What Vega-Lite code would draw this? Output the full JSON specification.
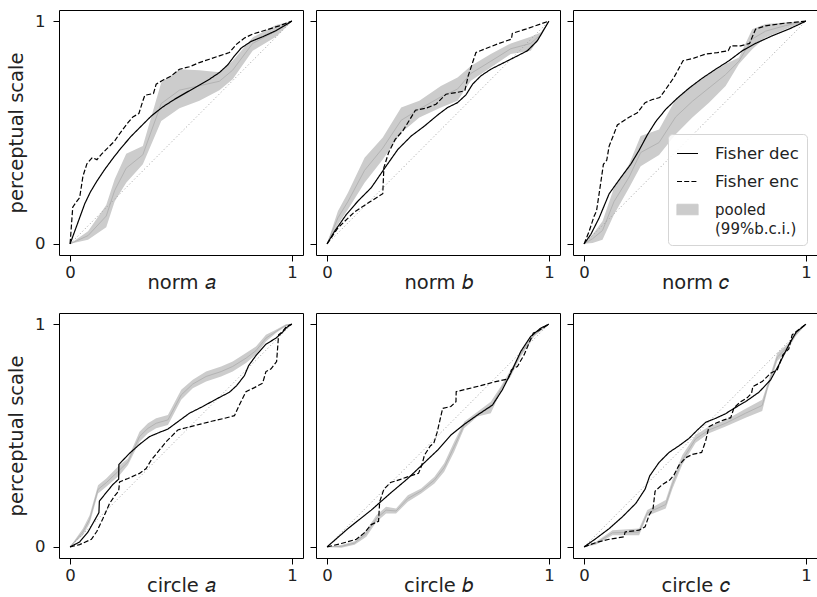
{
"$schema": "https://vega.github.io/schema/vega-lite/v6.json",
"padding": {"left": 6, "top": 9, "right": 0, "bottom": 0},
"background": "white",
"datasets": {
"diag": [{"x": 0, "y": 0}, {"x": 1, "y": 1}],
"band": [
{"p":"na","x":0,"y":0,"hi":0,"m":0},{"p":"na","x":0.081,"y":0.018,"hi":0.057,"m":0.037},{"p":"na","x":0.163,"y":0.075,"hi":0.174,"m":0.125},{"p":"na","x":0.201,"y":0.19,"hi":0.29,"m":0.24},{"p":"na","x":0.253,"y":0.274,"hi":0.405,"m":0.34},{"p":"na","x":0.328,"y":0.357,"hi":0.439,"m":0.4},{"p":"na","x":0.411,"y":0.552,"hi":0.724,"m":0.63},{"p":"na","x":0.493,"y":0.609,"hi":0.784,"m":0.69},{"p":"na","x":0.583,"y":0.642,"hi":0.78,"m":0.71},{"p":"na","x":0.673,"y":0.69,"hi":0.77,"m":0.73},{"p":"na","x":0.733,"y":0.739,"hi":0.822,"m":0.78},{"p":"na","x":0.823,"y":0.867,"hi":0.927,"m":0.9},{"p":"na","x":0.928,"y":0.93,"hi":0.983,"m":0.955},{"p":"na","x":1,"y":1,"hi":1,"m":1},
{"p":"nb","x":0,"y":0,"hi":0,"m":0},{"p":"nb","x":0.049,"y":0.087,"hi":0.147,"m":0.117},{"p":"nb","x":0.094,"y":0.154,"hi":0.229,"m":0.19},{"p":"nb","x":0.169,"y":0.274,"hi":0.387,"m":0.33},{"p":"nb","x":0.251,"y":0.379,"hi":0.477,"m":0.43},{"p":"nb","x":0.334,"y":0.499,"hi":0.612,"m":0.555},{"p":"nb","x":0.416,"y":0.567,"hi":0.642,"m":0.605},{"p":"nb","x":0.513,"y":0.612,"hi":0.709,"m":0.66},{"p":"nb","x":0.588,"y":0.642,"hi":0.747,"m":0.695},{"p":"nb","x":0.648,"y":0.732,"hi":0.799,"m":0.765},{"p":"nb","x":0.738,"y":0.792,"hi":0.852,"m":0.82},{"p":"nb","x":0.828,"y":0.852,"hi":0.9,"m":0.876},{"p":"nb","x":0.918,"y":0.867,"hi":0.93,"m":0.9},{"p":"nb","x":0.963,"y":0.934,"hi":0.949,"m":0.94},{"p":"nb","x":1,"y":1,"hi":1,"m":1},
{"p":"nc","x":0,"y":0,"hi":0,"m":0},{"p":"nc","x":0.038,"y":0.004,"hi":0.042,"m":0.023},{"p":"nc","x":0.083,"y":0.019,"hi":0.102,"m":0.06},{"p":"nc","x":0.135,"y":0.132,"hi":0.252,"m":0.19},{"p":"nc","x":0.203,"y":0.252,"hi":0.357,"m":0.3},{"p":"nc","x":0.255,"y":0.349,"hi":0.484,"m":0.41},{"p":"nc","x":0.338,"y":0.399,"hi":0.514,"m":0.455},{"p":"nc","x":0.413,"y":0.492,"hi":0.649,"m":0.57},{"p":"nc","x":0.488,"y":0.567,"hi":0.709,"m":0.64},{"p":"nc","x":0.563,"y":0.634,"hi":0.762,"m":0.7},{"p":"nc","x":0.638,"y":0.709,"hi":0.807,"m":0.76},{"p":"nc","x":0.698,"y":0.807,"hi":0.837,"m":0.82},{"p":"nc","x":0.758,"y":0.874,"hi":0.964,"m":0.92},{"p":"nc","x":0.818,"y":0.927,"hi":0.987,"m":0.955},{"p":"nc","x":0.908,"y":0.964,"hi":0.994,"m":0.98},{"p":"nc","x":1,"y":1,"hi":1,"m":1},
{"p":"ca","x":0,"y":0,"hi":0,"m":0},{"p":"ca","x":0.058,"y":0.052,"hi":0.082,"m":0.067},{"p":"ca","x":0.088,"y":0.105,"hi":0.142,"m":0.123},{"p":"ca","x":0.126,"y":0.24,"hi":0.277,"m":0.258},{"p":"ca","x":0.163,"y":0.27,"hi":0.307,"m":0.288},{"p":"ca","x":0.223,"y":0.322,"hi":0.367,"m":0.345},{"p":"ca","x":0.261,"y":0.367,"hi":0.397,"m":0.382},{"p":"ca","x":0.313,"y":0.472,"hi":0.517,"m":0.495},{"p":"ca","x":0.351,"y":0.51,"hi":0.555,"m":0.532},{"p":"ca","x":0.388,"y":0.532,"hi":0.577,"m":0.555},{"p":"ca","x":0.441,"y":0.547,"hi":0.592,"m":0.57},{"p":"ca","x":0.501,"y":0.66,"hi":0.705,"m":0.682},{"p":"ca","x":0.553,"y":0.712,"hi":0.75,"m":0.731},{"p":"ca","x":0.613,"y":0.742,"hi":0.787,"m":0.765},{"p":"ca","x":0.681,"y":0.765,"hi":0.81,"m":0.787},{"p":"ca","x":0.733,"y":0.787,"hi":0.832,"m":0.81},{"p":"ca","x":0.793,"y":0.825,"hi":0.87,"m":0.847},{"p":"ca","x":0.838,"y":0.862,"hi":0.9,"m":0.881},{"p":"ca","x":0.883,"y":0.922,"hi":0.952,"m":0.937},{"p":"ca","x":0.928,"y":0.96,"hi":0.975,"m":0.967},{"p":"ca","x":0.973,"y":0.99,"hi":1,"m":0.995},{"p":"ca","x":1,"y":1,"hi":1,"m":1},
{"p":"cb","x":0,"y":0,"hi":0,"m":0},{"p":"cb","x":0.064,"y":-0.004,"hi":0.008,"m":0.002},{"p":"cb","x":0.124,"y":0.01,"hi":0.025,"m":0.017},{"p":"cb","x":0.177,"y":0.045,"hi":0.075,"m":0.06},{"p":"cb","x":0.222,"y":0.112,"hi":0.142,"m":0.127},{"p":"cb","x":0.266,"y":0.15,"hi":0.18,"m":0.165},{"p":"cb","x":0.311,"y":0.15,"hi":0.172,"m":0.161},{"p":"cb","x":0.364,"y":0.202,"hi":0.232,"m":0.217},{"p":"cb","x":0.424,"y":0.24,"hi":0.262,"m":0.251},{"p":"cb","x":0.484,"y":0.285,"hi":0.315,"m":0.3},{"p":"cb","x":0.528,"y":0.337,"hi":0.375,"m":0.356},{"p":"cb","x":0.573,"y":0.427,"hi":0.472,"m":0.45},{"p":"cb","x":0.618,"y":0.532,"hi":0.562,"m":0.547},{"p":"cb","x":0.678,"y":0.585,"hi":0.607,"m":0.596},{"p":"cb","x":0.738,"y":0.6,"hi":0.652,"m":0.626},{"p":"cb","x":0.783,"y":0.697,"hi":0.72,"m":0.708},{"p":"cb","x":0.828,"y":0.765,"hi":0.795,"m":0.78},{"p":"cb","x":0.873,"y":0.855,"hi":0.877,"m":0.866},{"p":"cb","x":0.933,"y":0.945,"hi":0.96,"m":0.952},{"p":"cb","x":1,"y":1,"hi":1,"m":1},
{"p":"cc","x":0,"y":0,"hi":0,"m":0},{"p":"cc","x":0.053,"y":0.01,"hi":0.022,"m":0.016},{"p":"cc","x":0.128,"y":0.052,"hi":0.075,"m":0.063},{"p":"cc","x":0.248,"y":0.052,"hi":0.082,"m":0.067},{"p":"cc","x":0.285,"y":0.14,"hi":0.165,"m":0.152},{"p":"cc","x":0.368,"y":0.172,"hi":0.21,"m":0.19},{"p":"cc","x":0.398,"y":0.26,"hi":0.3,"m":0.28},{"p":"cc","x":0.443,"y":0.37,"hi":0.412,"m":0.39},{"p":"cc","x":0.503,"y":0.467,"hi":0.502,"m":0.485},{"p":"cc","x":0.563,"y":0.51,"hi":0.54,"m":0.525},{"p":"cc","x":0.638,"y":0.54,"hi":0.57,"m":0.555},{"p":"cc","x":0.728,"y":0.58,"hi":0.62,"m":0.6},{"p":"cc","x":0.803,"y":0.61,"hi":0.66,"m":0.635},{"p":"cc","x":0.826,"y":0.7,"hi":0.73,"m":0.715},{"p":"cc","x":0.871,"y":0.835,"hi":0.87,"m":0.852},{"p":"cc","x":0.916,"y":0.88,"hi":0.91,"m":0.895},{"p":"cc","x":0.953,"y":0.945,"hi":0.96,"m":0.952},{"p":"cc","x":1,"y":1,"hi":1,"m":1}
],
"lines": [
{"p":"na","s":"Fisher dec","x":0,"y":0},{"p":"na","s":"Fisher dec","x":0.021,"y":0.057},{"p":"na","s":"Fisher dec","x":0.043,"y":0.117},{"p":"na","s":"Fisher dec","x":0.066,"y":0.18},{"p":"na","s":"Fisher dec","x":0.091,"y":0.232},{"p":"na","s":"Fisher dec","x":0.121,"y":0.282},{"p":"na","s":"Fisher dec","x":0.156,"y":0.334},{"p":"na","s":"Fisher dec","x":0.193,"y":0.384},{"p":"na","s":"Fisher dec","x":0.231,"y":0.432},{"p":"na","s":"Fisher dec","x":0.276,"y":0.484},{"p":"na","s":"Fisher dec","x":0.321,"y":0.529},{"p":"na","s":"Fisher dec","x":0.366,"y":0.574},{"p":"na","s":"Fisher dec","x":0.418,"y":0.615},{"p":"na","s":"Fisher dec","x":0.471,"y":0.649},{"p":"na","s":"Fisher dec","x":0.523,"y":0.679},{"p":"na","s":"Fisher dec","x":0.576,"y":0.709},{"p":"na","s":"Fisher dec","x":0.628,"y":0.739},{"p":"na","s":"Fisher dec","x":0.673,"y":0.769},{"p":"na","s":"Fisher dec","x":0.711,"y":0.804},{"p":"na","s":"Fisher dec","x":0.741,"y":0.844},{"p":"na","s":"Fisher dec","x":0.771,"y":0.879},{"p":"na","s":"Fisher dec","x":0.816,"y":0.909},{"p":"na","s":"Fisher dec","x":0.868,"y":0.93},{"p":"na","s":"Fisher dec","x":0.928,"y":0.957},{"p":"na","s":"Fisher dec","x":1,"y":1},
{"p":"na","s":"Fisher enc","x":0,"y":0},{"p":"na","s":"Fisher enc","x":0.012,"y":0.165},{"p":"na","s":"Fisher enc","x":0.031,"y":0.192},{"p":"na","s":"Fisher enc","x":0.043,"y":0.207},{"p":"na","s":"Fisher enc","x":0.058,"y":0.304},{"p":"na","s":"Fisher enc","x":0.076,"y":0.36},{"p":"na","s":"Fisher enc","x":0.1,"y":0.387},{"p":"na","s":"Fisher enc","x":0.121,"y":0.378},{"p":"na","s":"Fisher enc","x":0.141,"y":0.402},{"p":"na","s":"Fisher enc","x":0.171,"y":0.432},{"p":"na","s":"Fisher enc","x":0.201,"y":0.462},{"p":"na","s":"Fisher enc","x":0.216,"y":0.484},{"p":"na","s":"Fisher enc","x":0.238,"y":0.514},{"p":"na","s":"Fisher enc","x":0.261,"y":0.544},{"p":"na","s":"Fisher enc","x":0.283,"y":0.57},{"p":"na","s":"Fisher enc","x":0.31,"y":0.585},{"p":"na","s":"Fisher enc","x":0.328,"y":0.642},{"p":"na","s":"Fisher enc","x":0.337,"y":0.667},{"p":"na","s":"Fisher enc","x":0.376,"y":0.675},{"p":"na","s":"Fisher enc","x":0.388,"y":0.717},{"p":"na","s":"Fisher enc","x":0.418,"y":0.735},{"p":"na","s":"Fisher enc","x":0.456,"y":0.754},{"p":"na","s":"Fisher enc","x":0.493,"y":0.784},{"p":"na","s":"Fisher enc","x":0.538,"y":0.795},{"p":"na","s":"Fisher enc","x":0.583,"y":0.814},{"p":"na","s":"Fisher enc","x":0.628,"y":0.829},{"p":"na","s":"Fisher enc","x":0.673,"y":0.844},{"p":"na","s":"Fisher enc","x":0.718,"y":0.859},{"p":"na","s":"Fisher enc","x":0.751,"y":0.897},{"p":"na","s":"Fisher enc","x":0.786,"y":0.924},{"p":"na","s":"Fisher enc","x":0.823,"y":0.942},{"p":"na","s":"Fisher enc","x":0.883,"y":0.96},{"p":"na","s":"Fisher enc","x":0.943,"y":0.979},{"p":"na","s":"Fisher enc","x":1,"y":1},
{"p":"nb","s":"Fisher dec","x":0,"y":0},{"p":"nb","s":"Fisher dec","x":0.034,"y":0.057},{"p":"nb","s":"Fisher dec","x":0.087,"y":0.132},{"p":"nb","s":"Fisher dec","x":0.139,"y":0.192},{"p":"nb","s":"Fisher dec","x":0.199,"y":0.252},{"p":"nb","s":"Fisher dec","x":0.266,"y":0.349},{"p":"nb","s":"Fisher dec","x":0.319,"y":0.424},{"p":"nb","s":"Fisher dec","x":0.379,"y":0.484},{"p":"nb","s":"Fisher dec","x":0.439,"y":0.529},{"p":"nb","s":"Fisher dec","x":0.499,"y":0.579},{"p":"nb","s":"Fisher dec","x":0.543,"y":0.612},{"p":"nb","s":"Fisher dec","x":0.588,"y":0.634},{"p":"nb","s":"Fisher dec","x":0.626,"y":0.669},{"p":"nb","s":"Fisher dec","x":0.656,"y":0.717},{"p":"nb","s":"Fisher dec","x":0.693,"y":0.754},{"p":"nb","s":"Fisher dec","x":0.738,"y":0.784},{"p":"nb","s":"Fisher dec","x":0.798,"y":0.814},{"p":"nb","s":"Fisher dec","x":0.858,"y":0.844},{"p":"nb","s":"Fisher dec","x":0.903,"y":0.867},{"p":"nb","s":"Fisher dec","x":0.948,"y":0.912},{"p":"nb","s":"Fisher dec","x":1,"y":1},
{"p":"nb","s":"Fisher enc","x":0,"y":0},{"p":"nb","s":"Fisher enc","x":0.049,"y":0.072},{"p":"nb","s":"Fisher enc","x":0.124,"y":0.144},{"p":"nb","s":"Fisher enc","x":0.199,"y":0.192},{"p":"nb","s":"Fisher enc","x":0.251,"y":0.225},{"p":"nb","s":"Fisher enc","x":0.256,"y":0.342},{"p":"nb","s":"Fisher enc","x":0.277,"y":0.409},{"p":"nb","s":"Fisher enc","x":0.307,"y":0.469},{"p":"nb","s":"Fisher enc","x":0.341,"y":0.507},{"p":"nb","s":"Fisher enc","x":0.371,"y":0.555},{"p":"nb","s":"Fisher enc","x":0.398,"y":0.6},{"p":"nb","s":"Fisher enc","x":0.446,"y":0.609},{"p":"nb","s":"Fisher enc","x":0.491,"y":0.627},{"p":"nb","s":"Fisher enc","x":0.536,"y":0.672},{"p":"nb","s":"Fisher enc","x":0.581,"y":0.679},{"p":"nb","s":"Fisher enc","x":0.621,"y":0.687},{"p":"nb","s":"Fisher enc","x":0.636,"y":0.754},{"p":"nb","s":"Fisher enc","x":0.656,"y":0.814},{"p":"nb","s":"Fisher enc","x":0.671,"y":0.859},{"p":"nb","s":"Fisher enc","x":0.716,"y":0.877},{"p":"nb","s":"Fisher enc","x":0.775,"y":0.9},{"p":"nb","s":"Fisher enc","x":0.831,"y":0.919},{"p":"nb","s":"Fisher enc","x":0.835,"y":0.945},{"p":"nb","s":"Fisher enc","x":0.895,"y":0.964},{"p":"nb","s":"Fisher enc","x":1,"y":1},
{"p":"nc","s":"Fisher dec","x":0,"y":0},{"p":"nc","s":"Fisher dec","x":0.03,"y":0.042},{"p":"nc","s":"Fisher dec","x":0.068,"y":0.117},{"p":"nc","s":"Fisher dec","x":0.113,"y":0.225},{"p":"nc","s":"Fisher dec","x":0.165,"y":0.297},{"p":"nc","s":"Fisher dec","x":0.21,"y":0.357},{"p":"nc","s":"Fisher dec","x":0.248,"y":0.42},{"p":"nc","s":"Fisher dec","x":0.285,"y":0.489},{"p":"nc","s":"Fisher dec","x":0.323,"y":0.549},{"p":"nc","s":"Fisher dec","x":0.368,"y":0.604},{"p":"nc","s":"Fisher dec","x":0.42,"y":0.654},{"p":"nc","s":"Fisher dec","x":0.473,"y":0.699},{"p":"nc","s":"Fisher dec","x":0.533,"y":0.744},{"p":"nc","s":"Fisher dec","x":0.593,"y":0.784},{"p":"nc","s":"Fisher dec","x":0.653,"y":0.822},{"p":"nc","s":"Fisher dec","x":0.713,"y":0.867},{"p":"nc","s":"Fisher dec","x":0.773,"y":0.9},{"p":"nc","s":"Fisher dec","x":0.848,"y":0.934},{"p":"nc","s":"Fisher dec","x":0.923,"y":0.964},{"p":"nc","s":"Fisher dec","x":1,"y":1},
{"p":"nc","s":"Fisher enc","x":0,"y":0},{"p":"nc","s":"Fisher enc","x":0.023,"y":0.057},{"p":"nc","s":"Fisher enc","x":0.045,"y":0.124},{"p":"nc","s":"Fisher enc","x":0.056,"y":0.147},{"p":"nc","s":"Fisher enc","x":0.075,"y":0.274},{"p":"nc","s":"Fisher enc","x":0.087,"y":0.357},{"p":"nc","s":"Fisher enc","x":0.102,"y":0.375},{"p":"nc","s":"Fisher enc","x":0.113,"y":0.439},{"p":"nc","s":"Fisher enc","x":0.131,"y":0.484},{"p":"nc","s":"Fisher enc","x":0.15,"y":0.534},{"p":"nc","s":"Fisher enc","x":0.195,"y":0.564},{"p":"nc","s":"Fisher enc","x":0.24,"y":0.589},{"p":"nc","s":"Fisher enc","x":0.275,"y":0.634},{"p":"nc","s":"Fisher enc","x":0.308,"y":0.648},{"p":"nc","s":"Fisher enc","x":0.341,"y":0.657},{"p":"nc","s":"Fisher enc","x":0.368,"y":0.694},{"p":"nc","s":"Fisher enc","x":0.405,"y":0.747},{"p":"nc","s":"Fisher enc","x":0.446,"y":0.822},{"p":"nc","s":"Fisher enc","x":0.495,"y":0.834},{"p":"nc","s":"Fisher enc","x":0.548,"y":0.852},{"p":"nc","s":"Fisher enc","x":0.601,"y":0.859},{"p":"nc","s":"Fisher enc","x":0.65,"y":0.867},{"p":"nc","s":"Fisher enc","x":0.661,"y":0.889},{"p":"nc","s":"Fisher enc","x":0.706,"y":0.889},{"p":"nc","s":"Fisher enc","x":0.746,"y":0.9},{"p":"nc","s":"Fisher enc","x":0.773,"y":0.964},{"p":"nc","s":"Fisher enc","x":0.818,"y":0.979},{"p":"nc","s":"Fisher enc","x":0.908,"y":0.991},{"p":"nc","s":"Fisher enc","x":1,"y":1},
{"p":"ca","s":"Fisher dec","x":0,"y":0},{"p":"ca","s":"Fisher dec","x":0.043,"y":0.022},{"p":"ca","s":"Fisher dec","x":0.081,"y":0.067},{"p":"ca","s":"Fisher dec","x":0.111,"y":0.12},{"p":"ca","s":"Fisher dec","x":0.13,"y":0.154},{"p":"ca","s":"Fisher dec","x":0.132,"y":0.205},{"p":"ca","s":"Fisher dec","x":0.163,"y":0.244},{"p":"ca","s":"Fisher dec","x":0.193,"y":0.28},{"p":"ca","s":"Fisher dec","x":0.219,"y":0.304},{"p":"ca","s":"Fisher dec","x":0.22,"y":0.37},{"p":"ca","s":"Fisher dec","x":0.268,"y":0.42},{"p":"ca","s":"Fisher dec","x":0.313,"y":0.46},{"p":"ca","s":"Fisher dec","x":0.358,"y":0.495},{"p":"ca","s":"Fisher dec","x":0.403,"y":0.514},{"p":"ca","s":"Fisher dec","x":0.441,"y":0.529},{"p":"ca","s":"Fisher dec","x":0.486,"y":0.562},{"p":"ca","s":"Fisher dec","x":0.538,"y":0.6},{"p":"ca","s":"Fisher dec","x":0.598,"y":0.63},{"p":"ca","s":"Fisher dec","x":0.658,"y":0.663},{"p":"ca","s":"Fisher dec","x":0.718,"y":0.694},{"p":"ca","s":"Fisher dec","x":0.751,"y":0.724},{"p":"ca","s":"Fisher dec","x":0.786,"y":0.769},{"p":"ca","s":"Fisher dec","x":0.805,"y":0.814},{"p":"ca","s":"Fisher dec","x":0.838,"y":0.859},{"p":"ca","s":"Fisher dec","x":0.883,"y":0.91},{"p":"ca","s":"Fisher dec","x":0.928,"y":0.937},{"p":"ca","s":"Fisher dec","x":0.958,"y":0.964},{"p":"ca","s":"Fisher dec","x":0.976,"y":0.985},{"p":"ca","s":"Fisher dec","x":1,"y":1},
{"p":"ca","s":"Fisher enc","x":0,"y":0},{"p":"ca","s":"Fisher enc","x":0.043,"y":0.01},{"p":"ca","s":"Fisher enc","x":0.096,"y":0.034},{"p":"ca","s":"Fisher enc","x":0.121,"y":0.07},{"p":"ca","s":"Fisher enc","x":0.148,"y":0.127},{"p":"ca","s":"Fisher enc","x":0.178,"y":0.195},{"p":"ca","s":"Fisher enc","x":0.201,"y":0.229},{"p":"ca","s":"Fisher enc","x":0.219,"y":0.25},{"p":"ca","s":"Fisher enc","x":0.223,"y":0.292},{"p":"ca","s":"Fisher enc","x":0.261,"y":0.307},{"p":"ca","s":"Fisher enc","x":0.313,"y":0.33},{"p":"ca","s":"Fisher enc","x":0.343,"y":0.352},{"p":"ca","s":"Fisher enc","x":0.366,"y":0.39},{"p":"ca","s":"Fisher enc","x":0.403,"y":0.435},{"p":"ca","s":"Fisher enc","x":0.433,"y":0.472},{"p":"ca","s":"Fisher enc","x":0.456,"y":0.495},{"p":"ca","s":"Fisher enc","x":0.486,"y":0.525},{"p":"ca","s":"Fisher enc","x":0.523,"y":0.535},{"p":"ca","s":"Fisher enc","x":0.583,"y":0.55},{"p":"ca","s":"Fisher enc","x":0.643,"y":0.565},{"p":"ca","s":"Fisher enc","x":0.696,"y":0.577},{"p":"ca","s":"Fisher enc","x":0.741,"y":0.589},{"p":"ca","s":"Fisher enc","x":0.763,"y":0.637},{"p":"ca","s":"Fisher enc","x":0.793,"y":0.697},{"p":"ca","s":"Fisher enc","x":0.831,"y":0.715},{"p":"ca","s":"Fisher enc","x":0.868,"y":0.735},{"p":"ca","s":"Fisher enc","x":0.883,"y":0.787},{"p":"ca","s":"Fisher enc","x":0.906,"y":0.799},{"p":"ca","s":"Fisher enc","x":0.931,"y":0.832},{"p":"ca","s":"Fisher enc","x":0.94,"y":0.952},{"p":"ca","s":"Fisher enc","x":0.958,"y":0.967},{"p":"ca","s":"Fisher enc","x":0.976,"y":0.99},{"p":"ca","s":"Fisher enc","x":1,"y":1},
{"p":"cb","s":"Fisher dec","x":0,"y":0},{"p":"cb","s":"Fisher dec","x":0.094,"y":0.082},{"p":"cb","s":"Fisher dec","x":0.199,"y":0.165},{"p":"cb","s":"Fisher dec","x":0.289,"y":0.244},{"p":"cb","s":"Fisher dec","x":0.364,"y":0.307},{"p":"cb","s":"Fisher dec","x":0.424,"y":0.364},{"p":"cb","s":"Fisher dec","x":0.499,"y":0.435},{"p":"cb","s":"Fisher dec","x":0.558,"y":0.502},{"p":"cb","s":"Fisher dec","x":0.618,"y":0.55},{"p":"cb","s":"Fisher dec","x":0.678,"y":0.592},{"p":"cb","s":"Fisher dec","x":0.746,"y":0.637},{"p":"cb","s":"Fisher dec","x":0.79,"y":0.705},{"p":"cb","s":"Fisher dec","x":0.828,"y":0.78},{"p":"cb","s":"Fisher dec","x":0.873,"y":0.877},{"p":"cb","s":"Fisher dec","x":0.918,"y":0.945},{"p":"cb","s":"Fisher dec","x":0.963,"y":0.982},{"p":"cb","s":"Fisher dec","x":1,"y":1},
{"p":"cb","s":"Fisher enc","x":0,"y":0},{"p":"cb","s":"Fisher enc","x":0.064,"y":0.015},{"p":"cb","s":"Fisher enc","x":0.132,"y":0.034},{"p":"cb","s":"Fisher enc","x":0.169,"y":0.064},{"p":"cb","s":"Fisher enc","x":0.199,"y":0.1},{"p":"cb","s":"Fisher enc","x":0.232,"y":0.115},{"p":"cb","s":"Fisher enc","x":0.237,"y":0.202},{"p":"cb","s":"Fisher enc","x":0.256,"y":0.259},{"p":"cb","s":"Fisher enc","x":0.286,"y":0.289},{"p":"cb","s":"Fisher enc","x":0.334,"y":0.304},{"p":"cb","s":"Fisher enc","x":0.376,"y":0.319},{"p":"cb","s":"Fisher enc","x":0.412,"y":0.33},{"p":"cb","s":"Fisher enc","x":0.427,"y":0.367},{"p":"cb","s":"Fisher enc","x":0.439,"y":0.412},{"p":"cb","s":"Fisher enc","x":0.466,"y":0.454},{"p":"cb","s":"Fisher enc","x":0.481,"y":0.465},{"p":"cb","s":"Fisher enc","x":0.496,"y":0.514},{"p":"cb","s":"Fisher enc","x":0.521,"y":0.622},{"p":"cb","s":"Fisher enc","x":0.558,"y":0.63},{"p":"cb","s":"Fisher enc","x":0.581,"y":0.652},{"p":"cb","s":"Fisher enc","x":0.582,"y":0.697},{"p":"cb","s":"Fisher enc","x":0.633,"y":0.709},{"p":"cb","s":"Fisher enc","x":0.693,"y":0.724},{"p":"cb","s":"Fisher enc","x":0.76,"y":0.742},{"p":"cb","s":"Fisher enc","x":0.816,"y":0.754},{"p":"cb","s":"Fisher enc","x":0.831,"y":0.795},{"p":"cb","s":"Fisher enc","x":0.858,"y":0.81},{"p":"cb","s":"Fisher enc","x":0.888,"y":0.862},{"p":"cb","s":"Fisher enc","x":0.93,"y":0.96},{"p":"cb","s":"Fisher enc","x":0.948,"y":0.967},{"p":"cb","s":"Fisher enc","x":1,"y":1},
{"p":"cc","s":"Fisher dec","x":0,"y":0},{"p":"cc","s":"Fisher dec","x":0.053,"y":0.037},{"p":"cc","s":"Fisher dec","x":0.113,"y":0.082},{"p":"cc","s":"Fisher dec","x":0.173,"y":0.135},{"p":"cc","s":"Fisher dec","x":0.233,"y":0.195},{"p":"cc","s":"Fisher dec","x":0.275,"y":0.259},{"p":"cc","s":"Fisher dec","x":0.296,"y":0.319},{"p":"cc","s":"Fisher dec","x":0.338,"y":0.379},{"p":"cc","s":"Fisher dec","x":0.383,"y":0.424},{"p":"cc","s":"Fisher dec","x":0.428,"y":0.454},{"p":"cc","s":"Fisher dec","x":0.473,"y":0.487},{"p":"cc","s":"Fisher dec","x":0.511,"y":0.525},{"p":"cc","s":"Fisher dec","x":0.548,"y":0.559},{"p":"cc","s":"Fisher dec","x":0.593,"y":0.577},{"p":"cc","s":"Fisher dec","x":0.638,"y":0.598},{"p":"cc","s":"Fisher dec","x":0.676,"y":0.622},{"p":"cc","s":"Fisher dec","x":0.728,"y":0.652},{"p":"cc","s":"Fisher dec","x":0.788,"y":0.694},{"p":"cc","s":"Fisher dec","x":0.841,"y":0.75},{"p":"cc","s":"Fisher dec","x":0.878,"y":0.817},{"p":"cc","s":"Fisher dec","x":0.923,"y":0.907},{"p":"cc","s":"Fisher dec","x":0.956,"y":0.964},{"p":"cc","s":"Fisher dec","x":1,"y":1},
{"p":"cc","s":"Fisher enc","x":0,"y":0},{"p":"cc","s":"Fisher enc","x":0.053,"y":0.019},{"p":"cc","s":"Fisher enc","x":0.113,"y":0.034},{"p":"cc","s":"Fisher enc","x":0.18,"y":0.045},{"p":"cc","s":"Fisher enc","x":0.185,"y":0.067},{"p":"cc","s":"Fisher enc","x":0.248,"y":0.075},{"p":"cc","s":"Fisher enc","x":0.275,"y":0.09},{"p":"cc","s":"Fisher enc","x":0.293,"y":0.142},{"p":"cc","s":"Fisher enc","x":0.311,"y":0.172},{"p":"cc","s":"Fisher enc","x":0.32,"y":0.25},{"p":"cc","s":"Fisher enc","x":0.353,"y":0.28},{"p":"cc","s":"Fisher enc","x":0.386,"y":0.3},{"p":"cc","s":"Fisher enc","x":0.405,"y":0.322},{"p":"cc","s":"Fisher enc","x":0.428,"y":0.367},{"p":"cc","s":"Fisher enc","x":0.458,"y":0.4},{"p":"cc","s":"Fisher enc","x":0.488,"y":0.415},{"p":"cc","s":"Fisher enc","x":0.53,"y":0.424},{"p":"cc","s":"Fisher enc","x":0.548,"y":0.475},{"p":"cc","s":"Fisher enc","x":0.563,"y":0.54},{"p":"cc","s":"Fisher enc","x":0.593,"y":0.555},{"p":"cc","s":"Fisher enc","x":0.631,"y":0.57},{"p":"cc","s":"Fisher enc","x":0.661,"y":0.58},{"p":"cc","s":"Fisher enc","x":0.676,"y":0.625},{"p":"cc","s":"Fisher enc","x":0.706,"y":0.652},{"p":"cc","s":"Fisher enc","x":0.736,"y":0.67},{"p":"cc","s":"Fisher enc","x":0.755,"y":0.69},{"p":"cc","s":"Fisher enc","x":0.761,"y":0.72},{"p":"cc","s":"Fisher enc","x":0.803,"y":0.742},{"p":"cc","s":"Fisher enc","x":0.841,"y":0.78},{"p":"cc","s":"Fisher enc","x":0.871,"y":0.795},{"p":"cc","s":"Fisher enc","x":0.896,"y":0.862},{"p":"cc","s":"Fisher enc","x":0.923,"y":0.889},{"p":"cc","s":"Fisher enc","x":0.938,"y":0.952},{"p":"cc","s":"Fisher enc","x":0.961,"y":0.97},{"p":"cc","s":"Fisher enc","x":1,"y":1}
]
},
"columns": 3,
"spacing": {"row": 58, "column": 13},
"bounds": "flush",
"resolve": {"scale": {"color": "independent", "strokeDash": "independent"}, "legend": {"color": "independent", "strokeDash": "independent"}},
"concat": [
{"width": 244, "height": 245,
 "encoding": {
  "x": {"field": "x", "type": "quantitative", "scale": {"domain": [-0.05, 1.05], "nice": false, "zero": false}, "axis": {"values": [0, 1], "format": "d", "title": "norm 𝑎"}},
  "y": {"field": "y", "type": "quantitative", "scale": {"domain": [-0.05, 1.05], "nice": false, "zero": false}, "axis": {"values": [0, 1], "format": "d", "title": "perceptual scale"}}},
 "layer": [
  {"data": {"name": "band"}, "transform": [{"filter": "datum.p === 'na'"}], "mark": {"type": "area"},
   "encoding": {"y2": {"field": "hi"}, "color": {"datum": "pooled", "type": "nominal", "scale": {"domain": ["Fisher dec", "Fisher enc", "pooled"], "range": ["#000000", "#000000", "#cccccc"]}, "legend": null}}},
  {"data": {"name": "band"}, "transform": [{"filter": "datum.p === 'na'"}], "mark": {"type": "line", "color": "#b3b3b3", "strokeWidth": 1},
   "encoding": {"y": {"field": "m", "type": "quantitative", "scale": {"domain": [-0.05, 1.05], "nice": false, "zero": false}, "axis": {"values": [0, 1], "format": "d", "title": "perceptual scale"}}}},
  {"data": {"name": "diag"}, "mark": {"type": "line", "color": "#a0a0a0", "strokeWidth": 1, "strokeDash": [1, 2.5]}, "encoding": {}},
  {"data": {"name": "lines"}, "transform": [{"filter": "datum.p === 'na'"}], "mark": {"type": "line", "strokeWidth": 1.2},
   "encoding": {"color": {"field": "s", "type": "nominal", "scale": {"domain": ["Fisher dec", "Fisher enc", "pooled"], "range": ["#000000", "#000000", "#cccccc"]}, "legend": null},
    "strokeDash": {"field": "s", "type": "nominal", "scale": {"domain": ["Fisher dec", "Fisher enc"], "range": [[1, 0], [5, 2.2]]}, "legend": null}}}
 ]},
{"width": 244, "height": 245,
 "encoding": {
  "x": {"field": "x", "type": "quantitative", "scale": {"domain": [-0.05, 1.05], "nice": false, "zero": false}, "axis": {"values": [0, 1], "format": "d", "title": "norm 𝑏"}},
  "y": {"field": "y", "type": "quantitative", "scale": {"domain": [-0.05, 1.05], "nice": false, "zero": false}, "axis": {"values": [0, 1], "format": "d", "title": null, "labels": false}}},
 "layer": [
  {"data": {"name": "band"}, "transform": [{"filter": "datum.p === 'nb'"}], "mark": {"type": "area"},
   "encoding": {"y2": {"field": "hi"}, "color": {"datum": "pooled", "type": "nominal", "scale": {"domain": ["Fisher dec", "Fisher enc", "pooled"], "range": ["#000000", "#000000", "#cccccc"]}, "legend": null}}},
  {"data": {"name": "band"}, "transform": [{"filter": "datum.p === 'nb'"}], "mark": {"type": "line", "color": "#b3b3b3", "strokeWidth": 1},
   "encoding": {"y": {"field": "m", "type": "quantitative", "scale": {"domain": [-0.05, 1.05], "nice": false, "zero": false}, "axis": {"values": [0, 1], "format": "d", "title": null, "labels": false}}}},
  {"data": {"name": "diag"}, "mark": {"type": "line", "color": "#a0a0a0", "strokeWidth": 1, "strokeDash": [1, 2.5]}, "encoding": {}},
  {"data": {"name": "lines"}, "transform": [{"filter": "datum.p === 'nb'"}], "mark": {"type": "line", "strokeWidth": 1.2},
   "encoding": {"color": {"field": "s", "type": "nominal", "scale": {"domain": ["Fisher dec", "Fisher enc", "pooled"], "range": ["#000000", "#000000", "#cccccc"]}, "legend": null},
    "strokeDash": {"field": "s", "type": "nominal", "scale": {"domain": ["Fisher dec", "Fisher enc"], "range": [[1, 0], [5, 2.2]]}, "legend": null}}}
 ]},
{"width": 244, "height": 245,
 "encoding": {
  "x": {"field": "x", "type": "quantitative", "scale": {"domain": [-0.05, 1.05], "nice": false, "zero": false}, "axis": {"values": [0, 1], "format": "d", "title": "norm 𝑐"}},
  "y": {"field": "y", "type": "quantitative", "scale": {"domain": [-0.05, 1.05], "nice": false, "zero": false}, "axis": {"values": [0, 1], "format": "d", "title": null, "labels": false}}},
 "layer": [
  {"data": {"name": "band"}, "transform": [{"filter": "datum.p === 'nc'"}], "mark": {"type": "area"},
   "encoding": {"y2": {"field": "hi"}, "color": {"datum": "pooled", "type": "nominal", "scale": {"domain": ["Fisher dec", "Fisher enc", "pooled"], "range": ["#000000", "#000000", "#cccccc"]}}}},
  {"data": {"name": "band"}, "transform": [{"filter": "datum.p === 'nc'"}], "mark": {"type": "line", "color": "#b3b3b3", "strokeWidth": 1},
   "encoding": {"y": {"field": "m", "type": "quantitative", "scale": {"domain": [-0.05, 1.05], "nice": false, "zero": false}, "axis": {"values": [0, 1], "format": "d", "title": null, "labels": false}}}},
  {"data": {"name": "diag"}, "mark": {"type": "line", "color": "#a0a0a0", "strokeWidth": 1, "strokeDash": [1, 2.5]}, "encoding": {}},
  {"data": {"name": "lines"}, "transform": [{"filter": "datum.p === 'nc'"}], "mark": {"type": "line", "strokeWidth": 1.2},
   "encoding": {"color": {"field": "s", "type": "nominal", "scale": {"domain": ["Fisher dec", "Fisher enc", "pooled"], "range": ["#000000", "#000000", "#cccccc"]},
      "legend": {"title": null, "orient": "bottom-right", "offset": 10, "padding": 8, "rowPadding": 8, "labelFontSize": 16.5, "labelColor": "#222", "labelOffset": 16,
        "strokeColor": "#d5d5d5", "fillColor": "rgba(255,255,255,0.85)", "cornerRadius": 4, "symbolSize": 441,
        "labelExpr": "datum.label === 'pooled' ? ['pooled', '(99%b.c.i.)'] : datum.label",
        "encode": {
         "labels": {"update": {"fontSize": {"signal": "datum.value === 'pooled' ? 15 : 16.5"}, "lineHeight": {"value": 19}}},
         "symbols": {"update": {
          "shape": {"signal": "datum.value === 'pooled' ? 'M-1,-0.5H1V0.5H-1Z' : 'stroke'"},
          "strokeDash": {"signal": "datum.value === 'Fisher enc' ? [5, 2.2] : [1, 0]"},
          "fill": {"signal": "datum.value === 'pooled' ? '#cccccc' : 'transparent'"},
          "stroke": {"signal": "datum.value === 'pooled' ? 'transparent' : '#000000'"},
          "strokeWidth": {"value": 1.2},
          "opacity": {"value": 1}}}}}},
    "strokeDash": {"field": "s", "type": "nominal", "scale": {"domain": ["Fisher dec", "Fisher enc"], "range": [[1, 0], [5, 2.2]]}, "legend": null}}}
 ]},
{"width": 244, "height": 245,
 "encoding": {
  "x": {"field": "x", "type": "quantitative", "scale": {"domain": [-0.05, 1.05], "nice": false, "zero": false}, "axis": {"values": [0, 1], "format": "d", "title": "circle 𝑎"}},
  "y": {"field": "y", "type": "quantitative", "scale": {"domain": [-0.05, 1.05], "nice": false, "zero": false}, "axis": {"values": [0, 1], "format": "d", "title": "perceptual scale"}}},
 "layer": [
  {"data": {"name": "band"}, "transform": [{"filter": "datum.p === 'ca'"}], "mark": {"type": "area"},
   "encoding": {"y2": {"field": "hi"}, "color": {"datum": "pooled", "type": "nominal", "scale": {"domain": ["Fisher dec", "Fisher enc", "pooled"], "range": ["#000000", "#000000", "#cccccc"]}, "legend": null}}},
  {"data": {"name": "band"}, "transform": [{"filter": "datum.p === 'ca'"}], "mark": {"type": "line", "color": "#b3b3b3", "strokeWidth": 1},
   "encoding": {"y": {"field": "m", "type": "quantitative", "scale": {"domain": [-0.05, 1.05], "nice": false, "zero": false}, "axis": {"values": [0, 1], "format": "d", "title": "perceptual scale"}}}},
  {"data": {"name": "diag"}, "mark": {"type": "line", "color": "#a0a0a0", "strokeWidth": 1, "strokeDash": [1, 2.5]}, "encoding": {}},
  {"data": {"name": "lines"}, "transform": [{"filter": "datum.p === 'ca'"}], "mark": {"type": "line", "strokeWidth": 1.2},
   "encoding": {"color": {"field": "s", "type": "nominal", "scale": {"domain": ["Fisher dec", "Fisher enc", "pooled"], "range": ["#000000", "#000000", "#cccccc"]}, "legend": null},
    "strokeDash": {"field": "s", "type": "nominal", "scale": {"domain": ["Fisher dec", "Fisher enc"], "range": [[1, 0], [5, 2.2]]}, "legend": null}}}
 ]},
{"width": 244, "height": 245,
 "encoding": {
  "x": {"field": "x", "type": "quantitative", "scale": {"domain": [-0.05, 1.05], "nice": false, "zero": false}, "axis": {"values": [0, 1], "format": "d", "title": "circle 𝑏"}},
  "y": {"field": "y", "type": "quantitative", "scale": {"domain": [-0.05, 1.05], "nice": false, "zero": false}, "axis": {"values": [0, 1], "format": "d", "title": null, "labels": false}}},
 "layer": [
  {"data": {"name": "band"}, "transform": [{"filter": "datum.p === 'cb'"}], "mark": {"type": "area"},
   "encoding": {"y2": {"field": "hi"}, "color": {"datum": "pooled", "type": "nominal", "scale": {"domain": ["Fisher dec", "Fisher enc", "pooled"], "range": ["#000000", "#000000", "#cccccc"]}, "legend": null}}},
  {"data": {"name": "band"}, "transform": [{"filter": "datum.p === 'cb'"}], "mark": {"type": "line", "color": "#b3b3b3", "strokeWidth": 1},
   "encoding": {"y": {"field": "m", "type": "quantitative", "scale": {"domain": [-0.05, 1.05], "nice": false, "zero": false}, "axis": {"values": [0, 1], "format": "d", "title": null, "labels": false}}}},
  {"data": {"name": "diag"}, "mark": {"type": "line", "color": "#a0a0a0", "strokeWidth": 1, "strokeDash": [1, 2.5]}, "encoding": {}},
  {"data": {"name": "lines"}, "transform": [{"filter": "datum.p === 'cb'"}], "mark": {"type": "line", "strokeWidth": 1.2},
   "encoding": {"color": {"field": "s", "type": "nominal", "scale": {"domain": ["Fisher dec", "Fisher enc", "pooled"], "range": ["#000000", "#000000", "#cccccc"]}, "legend": null},
    "strokeDash": {"field": "s", "type": "nominal", "scale": {"domain": ["Fisher dec", "Fisher enc"], "range": [[1, 0], [5, 2.2]]}, "legend": null}}}
 ]},
{"width": 244, "height": 245,
 "encoding": {
  "x": {"field": "x", "type": "quantitative", "scale": {"domain": [-0.05, 1.05], "nice": false, "zero": false}, "axis": {"values": [0, 1], "format": "d", "title": "circle 𝑐"}},
  "y": {"field": "y", "type": "quantitative", "scale": {"domain": [-0.05, 1.05], "nice": false, "zero": false}, "axis": {"values": [0, 1], "format": "d", "title": null, "labels": false}}},
 "layer": [
  {"data": {"name": "band"}, "transform": [{"filter": "datum.p === 'cc'"}], "mark": {"type": "area"},
   "encoding": {"y2": {"field": "hi"}, "color": {"datum": "pooled", "type": "nominal", "scale": {"domain": ["Fisher dec", "Fisher enc", "pooled"], "range": ["#000000", "#000000", "#cccccc"]}, "legend": null}}},
  {"data": {"name": "band"}, "transform": [{"filter": "datum.p === 'cc'"}], "mark": {"type": "line", "color": "#b3b3b3", "strokeWidth": 1},
   "encoding": {"y": {"field": "m", "type": "quantitative", "scale": {"domain": [-0.05, 1.05], "nice": false, "zero": false}, "axis": {"values": [0, 1], "format": "d", "title": null, "labels": false}}}},
  {"data": {"name": "diag"}, "mark": {"type": "line", "color": "#a0a0a0", "strokeWidth": 1, "strokeDash": [1, 2.5]}, "encoding": {}},
  {"data": {"name": "lines"}, "transform": [{"filter": "datum.p === 'cc'"}], "mark": {"type": "line", "strokeWidth": 1.2},
   "encoding": {"color": {"field": "s", "type": "nominal", "scale": {"domain": ["Fisher dec", "Fisher enc", "pooled"], "range": ["#000000", "#000000", "#cccccc"]}, "legend": null},
    "strokeDash": {"field": "s", "type": "nominal", "scale": {"domain": ["Fisher dec", "Fisher enc"], "range": [[1, 0], [5, 2.2]]}, "legend": null}}}
 ]}
],
"config": {
  "font": "DejaVu Sans",
  "view": {"stroke": "#000000", "strokeWidth": 1},
  "axis": {"domain": false, "grid": false, "tickColor": "#000000", "tickSize": 6, "tickWidth": 1, "labelFont": "DejaVu Sans", "labelFontSize": 16.5, "labelColor": "#222222", "titleFont": "DejaVu Sans", "titleFontSize": 19.5, "titleFontWeight": "normal", "titleColor": "#222222"},
  "axisX": {"labelPadding": 3, "titlePadding": -7},
  "axisY": {"labelPadding": 8, "titlePadding": 8},
  "legend": {"labelFont": "DejaVu Sans"}
}
}
